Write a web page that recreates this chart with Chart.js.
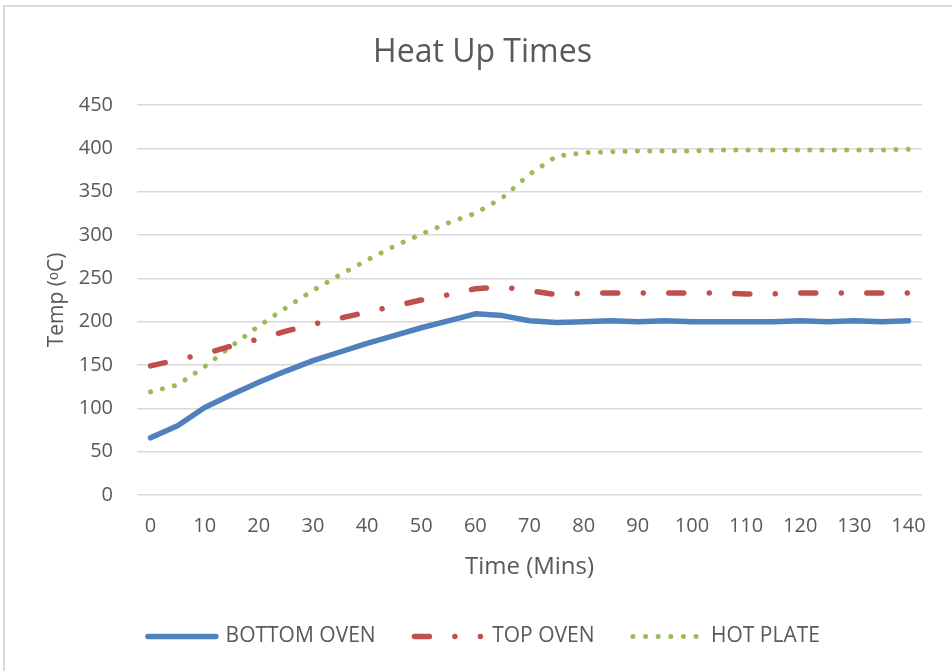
<!DOCTYPE html>
<html>
<head>
<meta charset="utf-8">
<script src="https://cdn.jsdelivr.net/npm/chart.js@4.4.1/dist/chart.umd.min.js"></script>
<style>
  html, body { margin: 0; padding: 0; background: #fff; }
  #frame {
    position: absolute; left: 3px; top: 5px; width: 2000px; height: 2000px;
    border-left: 2px solid #d9d9d9; border-top: 2px solid #d9d9d9;
  }
  #wrap { position: absolute; left: 0; top: 0; width: 952px; height: 671px; }
</style>
</head>
<body>
<div id="frame"></div>
<div id="wrap"><canvas id="chart-heat-up"></canvas></div>
<script>
// ==================================================
// DATA
// ==================================================
const times = [0, 5, 10, 15, 20, 25, 30, 35, 40, 45, 50, 55, 60, 65, 70,
  75, 80, 85, 90, 95, 100, 105, 110, 115, 120, 125, 130, 135, 140];

const bottomOven = [66, 80, 101, 116, 130, 143, 155, 165, 175, 184, 193, 201, 209, 207, 201,
  199, 200, 201, 200, 201, 200, 200, 200, 200, 201, 200, 201, 200, 201];

const topOven = [149, 156, 163, 172, 180, 189, 197, 204, 211, 218, 225, 231, 238, 240, 236,
  231, 233, 233, 233, 233, 233, 233, 232, 232, 233, 233, 233, 233, 233];

const hotPlate = [119, 127, 148, 172, 195, 216, 236, 254, 271, 287, 301, 314, 325, 343, 370,
  391, 395, 396, 397, 397, 397, 398, 398, 398, 398, 398, 398, 398, 399];

const seriesNames = ["BOTTOM OVEN", "TOP OVEN", "HOT PLATE"];
const tempTicks = [0, 50, 100, 150, 200, 250, 300, 350, 400, 450];

// ==================================================
// CHART
// ==================================================
const FONT = "'Open Sans', sans-serif";
const GREY = "#595959";

// legend samples: excel squeezes the dash pattern into the key
const legendDash = [[], [15, 25.5, 0.01, 25.5, 0.01, 200], [0.01, 12.6]];

// draws the line samples of the legend with the dataset dash styles
const legendLines = {
  id: "legendLines",
  afterDraw(chart) {
    const legend = chart.legend;
    if (!legend || !legend.legendHitBoxes) return;
    const c = chart.ctx;
    const boxW = legend.options.labels.boxWidth + 3;
    legend.legendHitBoxes.forEach((box, i) => {
      const ds = chart.data.datasets[i];
      const y = box.top + box.height / 2;
      c.save();
      c.strokeStyle = ds.borderColor;
      c.lineWidth = ds.borderWidth;
      c.lineCap = "round";
      c.setLineDash(legendDash[i]);
      c.beginPath();
      c.moveTo(box.left + ds.borderWidth / 2, y);
      c.lineTo(box.left + boxW - ds.borderWidth / 2 + 0.5, y);
      c.stroke();
      c.restore();
    });
  },
};

const ctx = document.getElementById("chart-heat-up").getContext("2d");
ctx.canvas.width = 952;
ctx.canvas.height = 671;

new Chart(ctx, {
  type: "line",
  data: {
    labels: times,
    datasets: [
      {
        label: seriesNames[0],
        data: bottomOven,
        borderColor: "#4f81bd",
        backgroundColor: "#4f81bd",
        borderWidth: 5.5,
        borderCapStyle: "round",
        borderJoinStyle: "round",
        pointRadius: 0,
        tension: 0,
      },
      {
        label: seriesNames[1],
        data: topOven,
        borderColor: "#c0504d",
        backgroundColor: "#c0504d",
        borderWidth: 5.5,
        borderDash: [15, 25.5, 0.01, 25.5],
        borderCapStyle: "round",
        borderJoinStyle: "round",
        pointRadius: 0,
        tension: 0,
      },
      {
        label: seriesNames[2],
        data: hotPlate,
        borderColor: "#9bbb59",
        backgroundColor: "#9bbb59",
        borderWidth: 5,
        borderDash: [0.01, 12.3],
        borderCapStyle: "round",
        pointRadius: 0,
        tension: 0,
      },
    ],
  },
  options: {
    responsive: false,
    animation: false,
    layout: { padding: { left: 43, right: 30, top: 0, bottom: 14 } },
    plugins: {
      title: {
        display: true,
        text: "Heat Up Times",
        color: GREY,
        font: { family: FONT, size: 32, weight: "normal" },
        padding: { top: 34, bottom: 32.6 },
      },
      legend: {
        position: "bottom",
        labels: {
          color: GREY,
          font: { family: FONT, size: 21 },
          boxWidth: 70,
          boxHeight: 8,
          padding: 36,
          generateLabels: function (chart) {
            return chart.data.datasets.map((ds, i) => ({
              text: ds.label,
              datasetIndex: i,
              fillStyle: "rgba(0,0,0,0)",
              strokeStyle: "rgba(0,0,0,0)",
              lineWidth: 0,
              fontColor: GREY,
              hidden: false,
            }));
          },
        },
      },
      tooltip: { enabled: false },
    },
    scales: {
      x: {
        type: "category",
        offset: true,
        grid: { display: false },
        border: { display: false },
        ticks: {
          color: GREY,
          font: { family: FONT, size: 20 },
          autoSkip: false,
          maxRotation: 0,
          padding: 11,
          callback: function (value, index) {
            return index % 2 === 0 ? this.getLabelForValue(value) : "";
          },
        },
        title: {
          display: true,
          text: "Time (Mins)",
          color: GREY,
          font: { family: FONT, size: 24 },
          padding: { top: 8, bottom: 8 },
        },
        afterFit: function (scale) {
          scale.height = 95;
        },
      },
      y: {
        min: 0,
        max: 450,
        afterBuildTicks: function (scale) {
          scale.ticks = tempTicks.map((v) => ({ value: v }));
        },
        grid: { color: "#d9d9d9", lineWidth: 1.5, drawTicks: false },
        border: { display: false },
        ticks: {
          color: GREY,
          font: { family: FONT, size: 20 },
          padding: 24,
        },
        title: {
          display: true,
          text: "Temp (ᵒC)",
          color: GREY,
          font: { family: FONT, size: 21 },
          padding: { top: 1, bottom: 0 },
        },
        afterFit: function (scale) {
          scale.width = 94;
        },
      },
    },
  },
  plugins: [legendLines],
});
</script>
</body>
</html>
